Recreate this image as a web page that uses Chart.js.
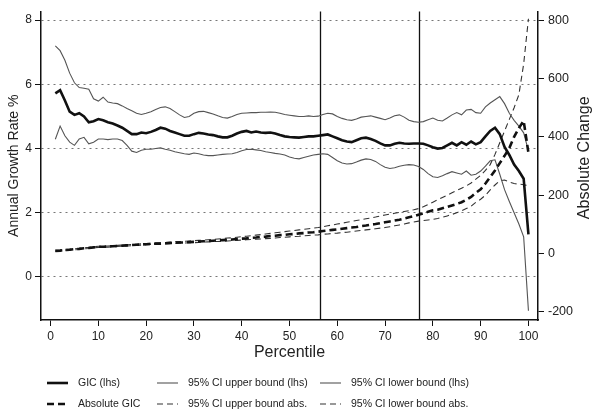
<!DOCTYPE html>
<html>
<head>
<meta charset="utf-8">
<script src="https://cdn.jsdelivr.net/npm/chart.js@4.4.0/dist/chart.umd.min.js"></script>
<style>
    html, body { margin: 0; padding: 0; background: #fff; }
    #wrap { width: 592px; height: 414px; }
</style>
</head>
<body>
<div id="wrap"><canvas id="gicChart" width="592" height="414"></canvas></div>
<script>
// Percentis 1..100 (categorias do eixo x)
const percentiles = Array.from({ length: 100 }, (_, i) => i + 1);

// Séries do eixo esquerdo (taxa de crescimento anual %)
const gic = [
    5.72, 5.82, 5.5, 5.15, 5.05, 5.1, 5.0, 4.82, 4.85, 4.92,
    4.88, 4.82, 4.78, 4.72, 4.65, 4.55, 4.45, 4.45, 4.5, 4.48,
    4.52, 4.58, 4.65, 4.62, 4.55, 4.5, 4.45, 4.4, 4.4, 4.45,
    4.49, 4.47, 4.44, 4.42, 4.38, 4.35, 4.35, 4.4, 4.47, 4.52,
    4.55, 4.5, 4.53, 4.5, 4.49, 4.5, 4.47, 4.42, 4.38, 4.36,
    4.35, 4.34, 4.36, 4.38, 4.38, 4.4, 4.42, 4.44, 4.38, 4.32,
    4.26, 4.22, 4.2, 4.26, 4.32, 4.34, 4.3, 4.24, 4.16, 4.1,
    4.1, 4.15, 4.18, 4.16, 4.15, 4.16, 4.16, 4.15, 4.1, 4.04,
    4.0, 4.02, 4.1, 4.18, 4.1, 4.2, 4.12, 4.22, 4.13, 4.2,
    4.38, 4.55, 4.65, 4.45, 4.05, 3.8, 3.5, 3.3, 3.06, 1.33
];
const ciUpperLhs = [
    7.2, 7.05, 6.75, 6.35, 6.05, 5.9, 5.88, 5.85, 5.55, 5.48,
    5.6, 5.45, 5.42, 5.4, 5.33, 5.25, 5.18, 5.1, 5.06, 5.1,
    5.15, 5.22, 5.28, 5.3, 5.25, 5.15, 5.05, 4.97, 5.0, 5.1,
    5.15, 5.16, 5.12, 5.08, 5.02, 4.97, 4.95, 5.0, 5.06, 5.1,
    5.11, 5.12, 5.12, 5.13, 5.13, 5.14, 5.13, 5.1, 5.06, 5.04,
    5.02, 5.0, 5.0, 5.02, 5.0, 5.01, 5.06, 5.1, 5.08, 5.0,
    4.94, 4.9, 4.88, 4.92, 4.98, 5.0, 5.02, 4.98, 4.94, 4.9,
    4.95, 5.02, 5.05, 4.98, 4.88, 4.84, 4.82, 4.84, 4.9, 4.95,
    4.88, 4.86, 4.95, 5.05, 5.12, 5.05, 5.2, 5.22, 5.12, 5.1,
    5.3, 5.42, 5.52, 5.62, 5.4, 5.1, 4.88, 4.7, 4.49, 3.93
];
const ciLowerLhs = [
    4.29, 4.7, 4.4, 4.2, 4.1, 4.3, 4.35, 4.15, 4.2, 4.3,
    4.3, 4.28, 4.3, 4.3, 4.25, 4.1, 3.92, 3.88, 3.95, 3.98,
    3.98, 4.0, 4.02, 3.98, 3.95, 3.9, 3.87, 3.84, 3.82, 3.86,
    3.84, 3.8, 3.78, 3.78, 3.8, 3.82, 3.83, 3.84, 3.88, 3.93,
    3.97, 3.98, 3.96, 3.94, 3.9, 3.88, 3.85, 3.83, 3.8, 3.74,
    3.7, 3.68, 3.72, 3.76, 3.8, 3.82, 3.84, 3.82, 3.72, 3.62,
    3.55, 3.52, 3.53, 3.58, 3.64, 3.68, 3.66, 3.6, 3.5, 3.42,
    3.38, 3.4, 3.45, 3.48, 3.5, 3.49, 3.44, 3.35, 3.22, 3.12,
    3.1, 3.15, 3.22, 3.28, 3.24, 3.2, 3.3, 3.17, 3.2, 3.3,
    3.45, 3.62, 3.65, 3.2, 2.72, 2.35, 2.0, 1.65, 1.25, -1.05
];

// Séries do eixo direito (variação absoluta)
const absGic = [
    9, 10, 12, 13, 15, 16, 18, 19, 21, 23,
    23, 24, 25, 26, 27, 28, 29, 30, 31, 32,
    33, 34, 34, 35, 36, 37, 38, 38, 39, 40,
    41, 42, 43, 44, 45, 46, 47, 48, 50, 51,
    52, 54, 55, 57, 58, 60, 61, 63, 64, 66,
    67, 69, 70, 72, 73, 75, 77, 79, 81, 83,
    85, 87, 89, 91, 94, 96, 99, 101, 104, 107,
    110, 113, 116, 120, 124, 128, 133, 138, 143, 148,
    150, 155, 160, 165, 170, 176, 184, 194, 208, 220,
    240, 262, 285, 310, 335, 362, 400, 430, 455, 345
];
const ciUpperAbs = [
    11, 12, 14, 15, 17, 18, 20, 21, 23, 25,
    25, 26, 27, 28, 29, 30, 31, 32, 33, 34,
    35, 36, 37, 38, 39, 40, 41, 42, 43, 44,
    45, 46, 47, 48, 50, 51, 53, 54, 56, 58,
    59, 61, 63, 65, 67, 69, 71, 73, 75, 77,
    79, 81, 83, 85, 87, 89, 92, 95, 98, 101,
    104, 107, 110, 113, 116, 119, 122, 125, 129, 132,
    135, 138, 141, 144, 147, 150, 154, 160, 168, 176,
    184, 192, 200, 208, 216, 224, 232, 242, 255, 268,
    285, 305, 340, 380, 420, 460, 500, 545, 650, 805
];
const ciLowerAbs = [
    7, 8, 10, 11, 13, 14, 16, 17, 19, 21,
    21, 22, 23, 24, 25, 26, 27, 28, 29, 30,
    31, 32, 32, 33, 34, 35, 35, 36, 37, 37,
    38, 39, 40, 41, 41, 42, 43, 44, 45, 46,
    47, 48, 49, 50, 51, 52, 53, 55, 56, 57,
    58, 59, 61, 62, 63, 64, 66, 67, 69, 70,
    72, 73, 75, 77, 79, 81, 83, 85, 87, 89,
    92, 95, 98, 101, 105, 108, 111, 113, 115, 117,
    120, 124, 129, 134, 140, 146, 154, 162, 176, 186,
    200, 218, 235, 250, 252, 245, 240, 238, 236, 232
];

// Marcas dos eixos e linhas verticais
const xTicks = [0, 10, 20, 30, 40, 50, 60, 70, 80, 90, 100];
const leftTicks = [0, 2, 4, 6, 8];
const rightTicks = [-200, 0, 200, 400, 600, 800];
const verticalMarks = [56.4, 77.2];

const FONT = '"Liberation Sans", Arial, Helvetica, sans-serif';

function toPoints(values) {
    return values.map((v, i) => ({ x: percentiles[i], y: v }));
}

// Linhas verticais nos percentis marcados
const verticalLinesPlugin = {
    id: 'verticalLines',
    beforeDatasetsDraw(chart) {
        const { ctx, chartArea, scales } = chart;
        ctx.save();
        ctx.strokeStyle = '#111';
        ctx.lineWidth = 1.3;
        verticalMarks.forEach(p => {
            const x = Math.round(scales.x.getPixelForValue(p)) + 0.5;
            ctx.beginPath();
            ctx.moveTo(x, chartArea.top);
            ctx.lineTo(x, chartArea.bottom);
            ctx.stroke();
        });
        ctx.restore();
    }
};

// Título do eixo direito (lido de baixo para cima) e legenda em grade
const extrasPlugin = {
    id: 'extras',
    afterDraw(chart) {
        const { ctx, chartArea } = chart;
        ctx.save();
        ctx.fillStyle = '#222';
        ctx.font = '16px ' + FONT;
        ctx.textAlign = 'center';
        ctx.textBaseline = 'middle';
        ctx.translate(585, (chartArea.top + chartArea.bottom) / 2 - 8);
        ctx.rotate(-Math.PI / 2);
        ctx.fillText('Absolute Change', 0, 0);
        ctx.restore();

        const colX = [47, 157, 320];
        const rowY = [383, 404];
        ctx.save();
        ctx.font = '10.5px ' + FONT;
        ctx.textAlign = 'left';
        ctx.textBaseline = 'middle';
        chart.data.datasets.forEach((ds, i) => {
            const x = colX[i % 3];
            const y = rowY[Math.floor(i / 3)];
            ctx.strokeStyle = ds.borderColor;
            ctx.lineWidth = ds.borderWidth;
            ctx.setLineDash(ds.borderDash || []);
            ctx.beginPath();
            ctx.moveTo(x, y);
            ctx.lineTo(x + 21, y);
            ctx.stroke();
            ctx.setLineDash([]);
            ctx.fillStyle = '#222';
            ctx.fillText(ds.label, x + 31, y);
        });
        ctx.restore();
    }
};

const ctx = document.getElementById('gicChart').getContext('2d');
new Chart(ctx, {
    type: 'line',
    data: {
        datasets: [
            { label: 'GIC (lhs)', data: toPoints(gic), yAxisID: 'yL', borderColor: '#111', borderWidth: 2.6, order: 1 },
            { label: '95% CI upper bound (lhs)', data: toPoints(ciUpperLhs), yAxisID: 'yL', borderColor: '#555', borderWidth: 1.1, order: 3 },
            { label: '95% CI lower bound (lhs)', data: toPoints(ciLowerLhs), yAxisID: 'yL', borderColor: '#555', borderWidth: 1.1, order: 3 },
            { label: 'Absolute GIC', data: toPoints(absGic), yAxisID: 'yR', borderColor: '#111', borderWidth: 2.6, borderDash: [7, 4], order: 2 },
            { label: '95% CI upper bound abs.', data: toPoints(ciUpperAbs), yAxisID: 'yR', borderColor: '#333', borderWidth: 1.1, borderDash: [6, 4], order: 4 },
            { label: '95% CI lower bound abs.', data: toPoints(ciLowerAbs), yAxisID: 'yR', borderColor: '#333', borderWidth: 1.1, borderDash: [6, 4], order: 4 }
        ]
    },
    options: {
        responsive: false,
        animation: false,
        devicePixelRatio: 1,
        layout: { padding: { top: 8, bottom: 44, left: 0, right: 0 } },
        elements: {
            point: { radius: 0 },
            line: { tension: 0, fill: false }
        },
        plugins: {
            legend: { display: false },
            tooltip: { enabled: false }
        },
        scales: {
            x: {
                type: 'linear',
                min: -2,
                max: 102,
                afterBuildTicks: s => { s.ticks = xTicks.map(v => ({ value: v })); },
                afterFit: s => { s.height = 50; },
                grid: { drawOnChartArea: false, drawTicks: true, tickLength: 6, tickColor: '#111', tickWidth: 1 },
                border: { color: '#111', width: 1.5 },
                ticks: { color: '#222', font: { family: FONT, size: 12 }, padding: 3, maxRotation: 0 },
                title: { display: true, text: 'Percentile', color: '#222', font: { family: FONT, size: 16 }, padding: { top: 0, bottom: 8 } }
            },
            yL: {
                type: 'linear',
                position: 'left',
                min: -1.34,
                max: 8.27,
                afterBuildTicks: s => { s.ticks = leftTicks.map(v => ({ value: v })); },
                afterFit: s => { s.width = 41; },
                grid: { color: '#777', lineWidth: 1, drawTicks: true, tickLength: 6, tickColor: '#111', tickBorderDash: [] },
                border: { color: '#111', width: 1.5, dash: [2, 4] },
                ticks: { color: '#222', font: { family: FONT, size: 12 }, padding: 3 },
                title: { display: true, text: 'Annual Growth Rate %', color: '#222', font: { family: FONT, size: 14 }, padding: { top: 6, bottom: 0 } }
            },
            yR: {
                type: 'linear',
                position: 'right',
                min: -228,
                max: 830,
                afterBuildTicks: s => { s.ticks = rightTicks.map(v => ({ value: v })); },
                afterFit: s => { s.width = 54; },
                grid: { drawOnChartArea: false, drawTicks: true, tickLength: 6, tickColor: '#111' },
                border: { color: '#111', width: 1.5 },
                ticks: { color: '#222', font: { family: FONT, size: 12.5 }, padding: 4 }
            }
        }
    },
    plugins: [verticalLinesPlugin, extrasPlugin]
});
</script>
</body>
</html>
